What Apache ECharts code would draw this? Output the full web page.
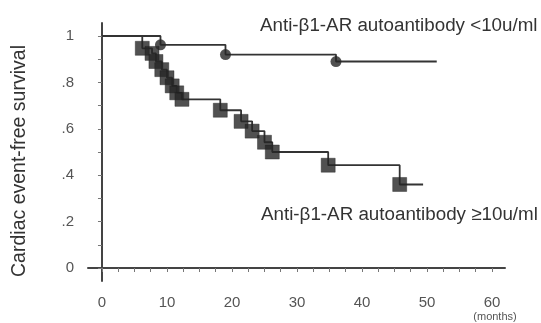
<!DOCTYPE html>
<html>
<head>
<meta charset="utf-8">
<script src="https://cdn.jsdelivr.net/npm/echarts@6/dist/echarts.min.js"></script>
<style>
  html, body { margin: 0; padding: 0; background: #fff; }
  #chart { width: 541px; height: 323px; }
</style>
</head>
<body>
<div id="chart"></div>
<script>
// 低抗体组 (<10u/ml)：事件时间与生存率
const lowTimes = [0, 9, 19, 36];
const lowSurv = [1, 0.962, 0.92, 0.89];
const lowEnd = 51.5;

// 高抗体组 (>=10u/ml)
const highTimes = [0, 6.2, 7.7, 8.3, 9.2, 10, 10.8, 11.5, 12.3, 18.2, 21.4, 23.1, 25, 26.2, 34.8, 45.8];
const highSurv = [1, 0.947, 0.925, 0.89, 0.855, 0.82, 0.785, 0.755, 0.727, 0.68, 0.632, 0.59, 0.542, 0.5, 0.443, 0.36];
const highEnd = 49.4;

// 刻度
const xLabelValues = [0, 10, 20, 30, 40, 50, 60];
const xTickValues = [0, 2.5, 5, 7.5, 10, 12.5, 15, 17.5, 20, 22.5, 25, 27.5, 30, 32.5, 35, 37.5, 40, 42.5, 45, 47.5, 50, 52.5, 55, 57.5, 60];
const yLabelValues = [0, 0.2, 0.4, 0.6, 0.8, 1];
const yLabelTexts = ['0', '.2', '.4', '.6', '.8', '1'];
const yTickValues = [0, 0.1, 0.2, 0.3, 0.4, 0.5, 0.6, 0.7, 0.8, 0.9, 1];

const font = 'Liberation Sans, Arial, sans-serif';
const ink = '#333';

// 阶梯线数据：事件点 + 末尾随访点
const stepData = (t, s, end) => t.map((v, i) => [v, s[i]]).concat([[end, s[s.length - 1]]]);
const markData = (t, s) => t.slice(1).map((v, i) => [v, s[i + 1]]);

const chart = echarts.init(document.getElementById('chart'));
chart.setOption({
  animation: false,
  grid: { left: 88, right: 36, top: 23, bottom: 42 },
  xAxis: {
    type: 'value',
    min: -2.15,
    max: 62,
    splitLine: { show: false },
    axisLine: { lineStyle: { color: '#444', width: 2 } },
    axisTick: { customValues: xTickValues, length: 4, lineStyle: { color: '#777', width: 1 } },
    axisLabel: {
      customValues: xLabelValues,
      margin: 14,
      color: '#555',
      fontFamily: font,
      fontSize: 15
    }
  },
  yAxis: {
    type: 'value',
    min: -0.056,
    max: 1.056,
    splitLine: { show: false },
    axisLine: { lineStyle: { color: '#444', width: 2 } },
    axisTick: { customValues: yTickValues, length: 4, lineStyle: { color: '#777', width: 1 } },
    axisLabel: {
      customValues: yLabelValues,
      margin: 14,
      color: '#555',
      fontFamily: font,
      fontSize: 15,
      formatter: (v) => yLabelTexts[yLabelValues.findIndex((y) => Math.abs(y - v) < 1e-6)] || ''
    }
  },
  series: [
    {
      type: 'line',
      step: 'end',
      data: stepData(lowTimes, lowSurv, lowEnd),
      showSymbol: false,
      lineStyle: { color: '#333', width: 1.8 },
      z: 2
    },
    {
      type: 'line',
      step: 'end',
      data: stepData(highTimes, highSurv, highEnd),
      showSymbol: false,
      lineStyle: { color: '#333', width: 1.8 },
      z: 2
    },
    {
      type: 'scatter',
      data: markData(lowTimes, lowSurv),
      symbol: 'circle',
      symbolSize: 11,
      itemStyle: { color: '#262626' },
      z: 3
    },
    {
      type: 'scatter',
      data: markData(highTimes, highSurv),
      symbol: 'rect',
      symbolSize: 14,
      itemStyle: { color: '#262626', borderColor: '#1e1e1e', borderWidth: 0.5 },
      z: 3
    }
  ],
  graphic: [
    {
      type: 'text',
      x: 20, y: 161,
      rotation: Math.PI / 2,
      style: {
        text: 'Cardiac event-free survival',
        fill: ink, font: '19.5px ' + font,
        textAlign: 'center', textVerticalAlign: 'middle'
      }
    },
    {
      type: 'text',
      x: 260, y: 26,
      style: {
        text: 'Anti-β1-AR autoantibody <10u/ml',
        fill: ink, font: '18.8px ' + font,
        textAlign: 'left', textVerticalAlign: 'middle'
      }
    },
    {
      type: 'text',
      x: 261, y: 215,
      style: {
        text: 'Anti-β1-AR autoantibody ≥10u/ml',
        fill: ink, font: '18.8px ' + font,
        textAlign: 'left', textVerticalAlign: 'middle'
      }
    },
    {
      type: 'text',
      x: 495, y: 317,
      style: {
        text: '(months)',
        fill: '#555', font: '11px ' + font,
        textAlign: 'center', textVerticalAlign: 'middle'
      }
    }
  ]
});
</script>
</body>
</html>
